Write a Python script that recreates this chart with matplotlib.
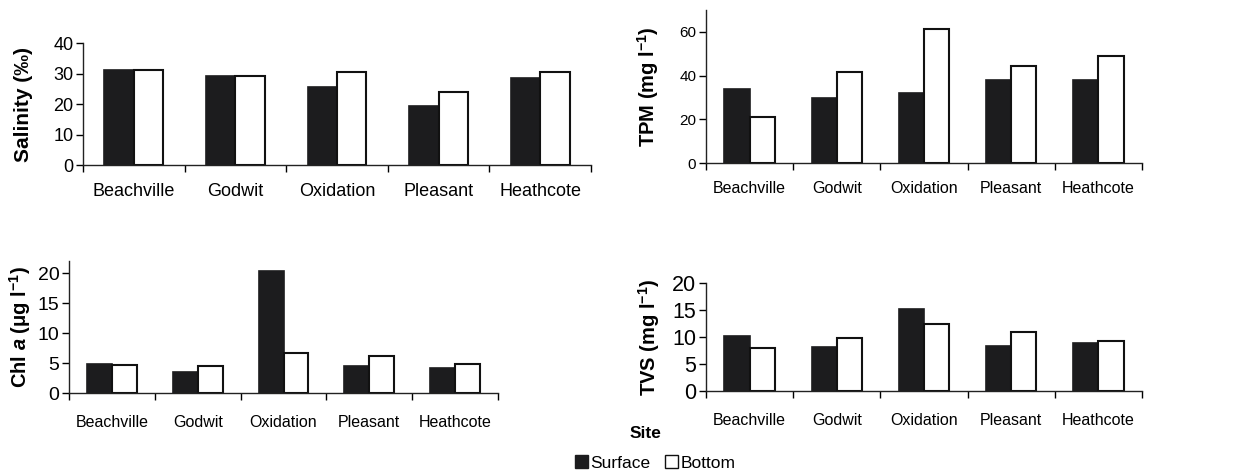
import numpy as np
import matplotlib as mpl
import matplotlib.pyplot as plt
from matplotlib.patches import Patch

mpl.rcParams['font.family'] = ['Liberation Sans', 'DejaVu Sans']
mpl.rcParams['mathtext.fontset'] = 'custom'
mpl.rcParams['mathtext.rm'] = 'Liberation Sans'
mpl.rcParams['mathtext.bf'] = 'Liberation Sans:bold'
mpl.rcParams['mathtext.it'] = 'Liberation Sans:italic'
mpl.rcParams['mathtext.bfit'] = 'Liberation Sans:bold:italic'

sites = ['Beachville', 'Godwit', 'Oxidation', 'Pleasant', 'Heathcote']

salinity_surface = [31.1, 29.2, 25.5, 19.3, 28.4]
salinity_bottom = [31.1, 29.2, 30.4, 23.8, 30.4]

tpm_surface = [34.0, 29.7, 32.0, 37.9, 38.2]
tpm_bottom = [21.0, 41.6, 61.2, 44.2, 49.0]

chl_surface = [4.86, 3.54, 20.4, 4.42, 4.25]
chl_bottom = [4.59, 4.42, 6.69, 6.19, 4.86]

tvs_surface = [10.1, 8.2, 15.1, 8.3, 8.9]
tvs_bottom = [8.0, 9.9, 12.5, 10.9, 9.2]

W, H = 1239, 472
SURF = '#1c1c1e'


def panel(fig, box, surf, bot, ylabel, ylim, yticks, tick_fs, cat_fs, lab_fs, lab_x, cat_pad):
    x0, y0, x1, y1 = box
    ax = fig.add_axes([x0 / W, 1 - y1 / H, (x1 - x0) / W, (y1 - y0) / H])
    n = len(sites)
    centers = np.arange(n) + 0.5
    w = 0.29
    ax.bar(centers - w / 2, surf, w, color=SURF, edgecolor=SURF, linewidth=1.2)
    ax.bar(centers + w / 2, bot, w, color='white', edgecolor='#111111', linewidth=1.5)
    ax.set_xlim(0, n)
    ax.set_ylim(*ylim)
    ax.set_yticks(yticks)
    ax.set_xticks(np.arange(n + 1))
    ax.set_xticklabels([])
    ax.set_xticks(centers, minor=True)
    ax.set_xticklabels(sites, minor=True, fontsize=cat_fs)
    ax.tick_params(axis='x', which='minor', length=0, pad=cat_pad)
    ax.tick_params(axis='x', which='major', length=5, width=1, direction='out')
    ax.tick_params(axis='y', length=5, width=1, labelsize=tick_fs, pad=2)
    for s in ['top', 'right']:
        ax.spines[s].set_visible(False)
    for s in ['left', 'bottom']:
        ax.spines[s].set_linewidth(1.0)
        ax.spines[s].set_color('#222222')
    # label anchor is the right edge of the rotated text
    ax.set_ylabel(ylabel, fontsize=lab_fs, fontweight='bold')
    ax.yaxis.set_label_coords((lab_x - x0) / (x1 - x0), 0.5)
    return ax


fig = plt.figure(figsize=(W / 100, H / 100), dpi=100)

panel(fig, (83, 43, 591, 165), salinity_surface, salinity_bottom,
      'Salinity (‰)', (0, 40), [0, 10, 20, 30, 40], 13, 13, 15, 33, 13)
panel(fig, (706, 10, 1142, 163), tpm_surface, tpm_bottom,
      r'TPM (mg l$^{\mathbf{-1}}$)', (0, 70), [0, 20, 40, 60], 11, 11.5, 14.5, 661, 13)
panel(fig, (69, 261, 498, 393), chl_surface, chl_bottom,
      r'Chl $\mathbfit{a}$ ($\mathbf{\mu}$g l$^{\mathbf{-1}}$)', (0, 22), [0, 5, 10, 15, 20],
      14, 11.5, 14.5, 33, 16)
panel(fig, (706, 283, 1142, 391), tvs_surface, tvs_bottom,
      r'TVS (mg l$^{\mathbf{-1}}$)', (0, 20), [0, 5, 10, 15, 20], 15.5, 11.5, 14.5, 662, 16)

fig.text(645 / W, 1 - 434 / H, 'Site', ha='center', va='center',
         fontsize=12.5, fontweight='bold')

handles = [Patch(facecolor=SURF, edgecolor=SURF, label='Surface'),
           Patch(facecolor='white', edgecolor='#111111', linewidth=1, label='Bottom')]
fig.legend(handles=handles, loc='center', bbox_to_anchor=(655 / W, 1 - 463 / H),
           ncol=2, frameon=False, fontsize=12.5, handlelength=0.75, handleheight=0.75,
           handletextpad=0.15, columnspacing=0.8, borderpad=0)

fig.savefig('out.png', dpi=100)
